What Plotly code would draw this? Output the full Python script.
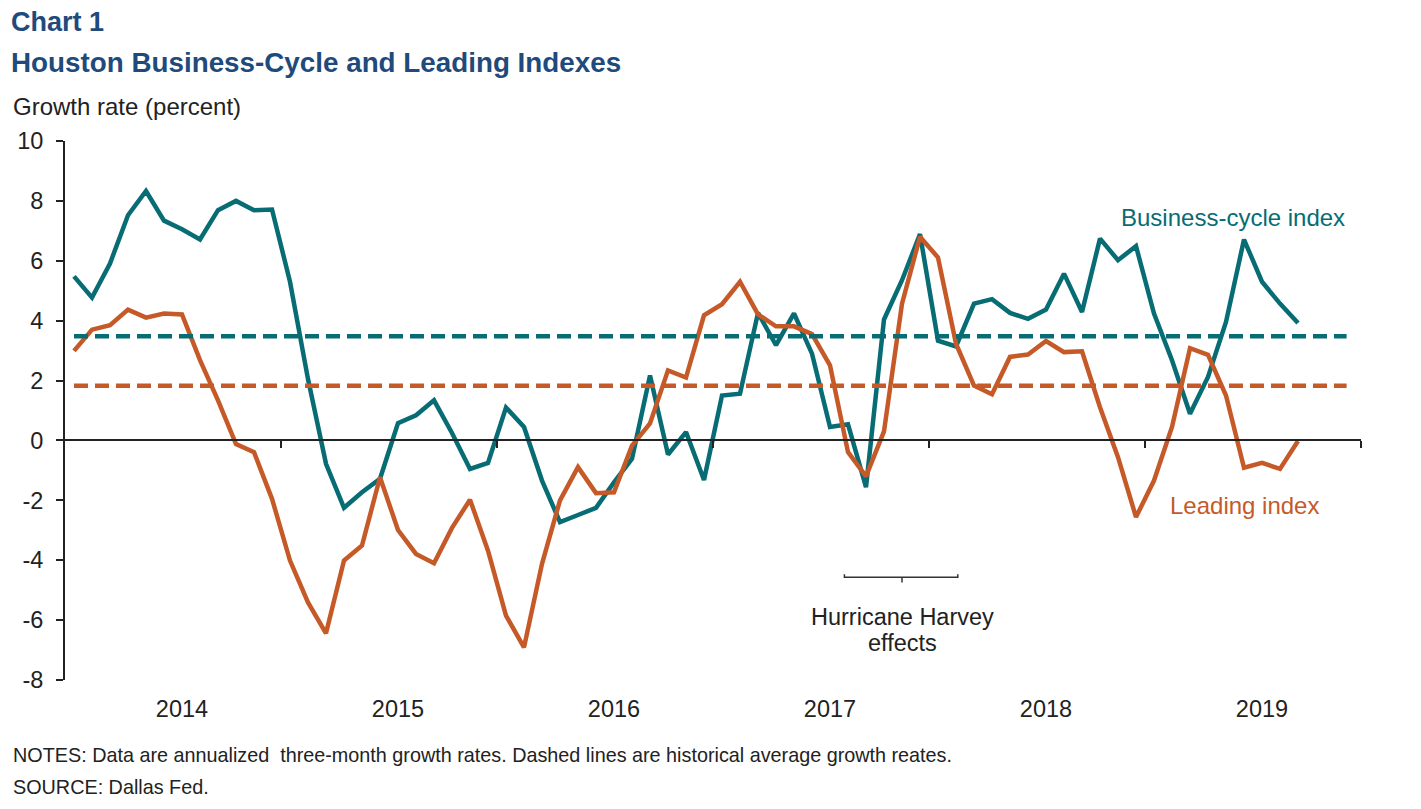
import plotly.graph_objects as go

# ---- data (monthly, July 2013 .. March 2019) ----
year_labels = ["2014", "2015", "2016", "2017", "2018", "2019"]
year_label_pos = [6, 18, 30, 42, 54, 66]          # January of each year (category index)
year_boundaries = [11.5, 23.5, 35.5, 47.5, 59.5, 71.5]

business_cycle = [5.48, 4.77, 5.91, 7.52, 8.33, 7.34, 7.05, 6.71, 7.69, 8.00, 7.69, 7.71,
                  5.30, 2.05, -0.78, -2.25, -1.73, -1.28, 0.58, 0.84, 1.34, 0.25, -0.95, -0.75,
                  1.10, 0.45, -1.34, -2.73, -2.49, -2.25, -1.40, -0.61, 2.17, -0.47, 0.28, -1.32,
                  1.50, 1.56, 4.26, 3.18, 4.24, 2.90, 0.45, 0.54, -1.56, 4.04, 5.35, 6.89,
                  3.33, 3.14, 4.57, 4.72, 4.26, 4.06, 4.37, 5.57, 4.29, 6.74, 6.02, 6.49,
                  4.24, 2.68, 0.89, 2.12, 3.96, 6.71, 5.30, 4.57, 3.92]

leading = [2.99, 3.70, 3.85, 4.37, 4.10, 4.24, 4.21, 2.68, 1.34, -0.12, -0.39, -1.95,
           -4.01, -5.41, -6.44, -4.01, -3.51, -1.23, -2.99, -3.79, -4.10, -2.92, -1.98, -3.68,
           -5.85, -6.91, -4.12, -2.00, -0.89, -1.76, -1.73, -0.17, 0.57, 2.34, 2.10, 4.18,
           4.55, 5.30, 4.21, 3.81, 3.81, 3.55, 2.51, -0.39, -1.20, 0.30, 4.57, 6.80,
           6.11, 3.23, 1.83, 1.54, 2.79, 2.87, 3.32, 2.95, 2.98, 1.11, -0.56, -2.56,
           -1.34, 0.45, 3.08, 2.86, 1.50, -0.91, -0.75, -0.95, -0.02]

business_avg = 3.48
leading_avg = 1.83

y_ticks = [-8, -6, -4, -2, 0, 2, 4, 6, 8, 10]
y_ticktext = ["-8", "-6", "-4", "-2", "0", "2", "4", "6", "8", "10"]

TEAL = "#076c73"
ORANGE = "#c55a28"
NAVY = "#1f4a7c"
INK = "#222222"
FONT = "Liberation Sans, Arial, sans-serif"

x_idx = list(range(len(business_cycle)))
avg_x = [0, 70.7]

fig = go.Figure()

# dashed historical averages (on the overlaid axis that also carries the zero line)
fig.add_trace(go.Scatter(x=avg_x, y=[business_avg, business_avg], mode="lines",
                         xaxis="x2", yaxis="y",
                         line=dict(color=TEAL, width=4.5, dash="14px,7px"),
                         hoverinfo="skip", showlegend=False))
fig.add_trace(go.Scatter(x=avg_x, y=[leading_avg, leading_avg], mode="lines",
                         xaxis="x2", yaxis="y",
                         line=dict(color=ORANGE, width=4.5, dash="14px,7px"),
                         hoverinfo="skip", showlegend=False))
fig.add_trace(go.Scatter(x=x_idx, y=business_cycle, mode="lines", name="Business-cycle index",
                         line=dict(color=TEAL, width=4.5), showlegend=False))
fig.add_trace(go.Scatter(x=x_idx, y=leading, mode="lines", name="Leading index",
                         line=dict(color=ORANGE, width=4.5), showlegend=False))

PW, PH = 1296, 539  # plot area size in px
L, T = 65, 141

def px_x(px):
    return (px - L) / PW

def px_y(py):
    return (T + PH - py) / PH

annotations = [
    dict(text="<b>Chart 1</b>", x=px_x(9), y=px_y(22), xref="paper", yref="paper",
         xanchor="left", yanchor="middle", showarrow=False,
         font=dict(family=FONT, size=27, color=NAVY)),
    dict(text="<b>Houston Business-Cycle and Leading Indexes</b>", x=px_x(9), y=px_y(62),
         xref="paper", yref="paper", xanchor="left", yanchor="middle", showarrow=False,
         font=dict(family=FONT, size=27.8, color=NAVY)),
    dict(text="Growth rate (percent)", x=px_x(11), y=px_y(106), xref="paper", yref="paper",
         xanchor="left", yanchor="middle", showarrow=False,
         font=dict(family=FONT, size=24, color=INK)),
    dict(text="Business-cycle index", x=70.7, y=7.46, xref="x", yref="y",
         xanchor="right", yanchor="middle", showarrow=False,
         font=dict(family=FONT, size=24, color=TEAL)),
    dict(text="Leading index", x=69.3, y=-2.17, xref="x", yref="y",
         xanchor="right", yanchor="middle", showarrow=False,
         font=dict(family=FONT, size=24, color=ORANGE)),
    dict(text="Hurricane Harvey", x=46, y=-5.91, xref="x", yref="y",
         xanchor="center", yanchor="middle", showarrow=False,
         font=dict(family=FONT, size=23.5, color=INK)),
    dict(text="effects", x=46, y=-6.78, xref="x", yref="y",
         xanchor="center", yanchor="middle", showarrow=False,
         font=dict(family=FONT, size=23.5, color=INK)),
    dict(text="NOTES: Data are annualized  three-month growth rates. Dashed lines are historical average growth reates.",
         x=px_x(11), y=px_y(755), xref="paper", yref="paper", xanchor="left", yanchor="middle",
         showarrow=False, font=dict(family=FONT, size=19.8, color=INK)),
    dict(text="SOURCE: Dallas Fed.", x=px_x(11), y=px_y(787), xref="paper", yref="paper",
         xanchor="left", yanchor="middle", showarrow=False,
         font=dict(family=FONT, size=19.8, color=INK)),
]

shapes = [
    dict(type="path", xref="x", yref="y",
         path="M 42.8,-4.47 L 42.8,-4.57 L 49.1,-4.57 L 49.1,-4.47 M 46,-4.57 L 46,-4.74",
         line=dict(color="#333333", width=1.5)),
]

fig.update_layout(
    width=1421, height=809,
    margin=dict(l=65, r=60, t=141, b=129, pad=0),
    paper_bgcolor="white", plot_bgcolor="white",
    font=dict(family=FONT, color=INK),
    showlegend=False,
    annotations=annotations,
    shapes=shapes,
    xaxis=dict(range=[-0.5, 71.5], tickmode="array", tickvals=year_label_pos,
               ticktext=year_labels, ticks="", showline=False, showgrid=False,
               zeroline=False, tickfont=dict(family=FONT, size=23.5, color=INK),
               ticklabelstandoff=12),
    xaxis2=dict(range=[-0.5, 71.5], overlaying="x", anchor="free", position=8 / 18,
                side="bottom",
                tickmode="array", tickvals=year_boundaries, ticks="outside", ticklen=7,
                tickwidth=2, tickcolor=INK, showline=True, linecolor=INK, linewidth=2,
                showticklabels=False, showgrid=False, zeroline=False),
    yaxis=dict(range=[-8, 10], tickmode="array", tickvals=y_ticks, ticktext=y_ticktext,
               ticks="outside", ticklen=7, tickwidth=2, tickcolor=INK,
               showline=True, linecolor=INK, linewidth=2, showgrid=False, zeroline=False,
               tickfont=dict(family=FONT, size=23.5, color=INK), ticklabelstandoff=8),
)

fig.write_html("out.html")
